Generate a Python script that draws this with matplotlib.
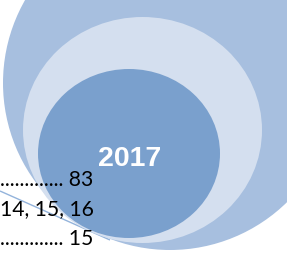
import matplotlib
matplotlib.use("Agg")
import matplotlib.pyplot as plt
from matplotlib.patches import Ellipse

# Content
year_label = "2017"
row_labels = ["............. 83", "14, 15, 16", "............. 15"]

# Colours
outer_color = "#A7BFDF"
middle_color = "#D4DFEF"
inner_color = "#7AA0CD"
line_color = "#93B3DB"

W, H = 287, 254
fig = plt.figure(figsize=(W / 100, H / 100), dpi=100)
ax = fig.add_axes([0, 0, 1, 1])
ax.set_xlim(0, W)
ax.set_ylim(H, 0)
ax.axis("off")

# thin decorative line
ax.plot([0, 110], [191, 240], color=line_color, lw=1.0, zorder=1, solid_capstyle="butt")

ax.add_patch(Ellipse((170, 83), 334, 334, facecolor=outer_color, edgecolor="none", zorder=2))
ax.add_patch(Ellipse((142.5, 130), 239, 226, facecolor=middle_color, edgecolor="none", zorder=3))
ax.add_patch(Ellipse((129, 153.5), 182, 169, facecolor=inner_color, edgecolor="none", zorder=4))

ax.text(129.5, 166, year_label, color="white", fontsize=20.5, fontweight="bold",
        family="Liberation Sans", ha="center", va="baseline", zorder=6)

baselines = [186, 215, 245]
for lab, yb in zip(row_labels, baselines):
    ax.text(93.5, yb, lab, color="black", fontsize=15.2, family="Lato",
            ha="right", va="baseline", zorder=6)

fig.savefig("out.png", dpi=100)
